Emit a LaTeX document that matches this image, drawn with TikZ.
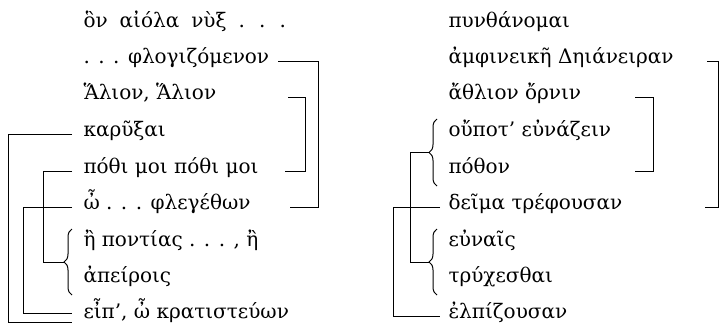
\documentclass[tikz,border=0pt]{standalone}
\usepackage{fontspec}
\setmainfont{DejaVu Serif}
\usetikzlibrary{decorations.pathreplacing}
\newcommand{\widesp}{\spaceskip=0.6em\relax}
\begin{document}
\begin{tikzpicture}[x=1pt,y=-1pt,line width=1pt,
  txt/.style={anchor=mid west,inner sep=0pt,font=\fontsize{20}{24}\selectfont},
  brc/.style={decorate,decoration={brace,amplitude=8pt}}]
\useasboundingbox (0,0) rectangle (720,330);
% left column
\node[txt] (L1) at (83,25)  {\widesp ὃν αἰόλα νὺξ . . .};
\node[txt] (L2) at (83,61)  {. . . φλογιζόμενον};
\node[txt] (L3) at (83,97)  {Ἅλιον, Ἅλιον};
\node[txt] (L4) at (83,134) {καρῦξαι};
\node[txt] (L5) at (83,171) {πόθι μοι πόθι μοι};
\node[txt] (L6) at (83,207) {ὦ . . . φλεγέθων};
\node[txt] (L7) at (83,244) {ἢ ποντίας . . . , ἢ};
\node[txt] (L8) at (83,280) {ἀπείροις};
\node[txt] (L9) at (83,316) {εἶπ’, ὦ κρατιστεύων};
% right column
\node[txt] (R1) at (448,25)  {πυνθάνομαι};
\node[txt] (R2) at (448,61)  {ἀμφινεικῆ Δηιάνειραν};
\node[txt] (R3) at (448,97)  {ἄθλιον ὄρνιν};
\node[txt] (R4) at (448,134) {οὔποτ’ εὐνάζειν};
\node[txt] (R5) at (448,171) {πόθον};
\node[txt] (R6) at (448,207) {δεῖμα τρέφουσαν};
\node[txt] (R7) at (448,244) {εὐναῖς};
\node[txt] (R8) at (448,280) {τρύχεσθαι};
\node[txt] (R9) at (448,316) {ἐλπίζουσαν};
% x positions
\coordinate (xA) at (8,0);   \coordinate (xB) at (23,0);
\coordinate (xC) at (43,0);  \coordinate (xE) at (72,0);
\coordinate (s278) at (278,0); \coordinate (s288) at (288,0);
\coordinate (s285) at (285,0); \coordinate (s290) at (290,0);
\coordinate (xP) at (318,0); \coordinate (xQ) at (305,0);
\coordinate (xF) at (393,0); \coordinate (xG) at (410,0);
\coordinate (xI) at (440,0);
\coordinate (xM) at (635,0); \coordinate (xL) at (653,0);
\coordinate (xN) at (705,0); \coordinate (xK) at (707,0);
\coordinate (xJ) at (718,0);
\coordinate (b9i) at (72,313); \coordinate (b9o) at (72,322);
% braces
\draw[brc] (72,295) -- (72,229) coordinate[pos=0.5,xshift=-8pt] (tL);
\draw[brc] (437,186) -- (437,119) coordinate[pos=0.5,xshift=-8pt] (tA);
\draw[brc] (437,295) -- (437,229) coordinate[pos=0.5,xshift=-8pt] (tB);
% left-side connectors (left column)
\draw (L4.mid west -| xE) -| (xA |- b9o) -- (b9o);
\draw (L6.mid west -| xE) -| (xB |- b9i) -- (b9i);
\draw (L5.mid west -| xE) -| (xC |- tL) -- (tL);
% right-side brackets (left column)
\draw (L2.mid west -| s278) -- (L2.mid west -| xP) -- (L6.mid west -| xP) -- (L6.mid west -| s290);
\draw (L3.mid west -| s288) -- (L3.mid west -| xQ) -- (L5.mid west -| xQ) -- (L5.mid west -| s285);
% left-side connectors (right column)
\draw (R6.mid west -| xI) -| (xF |- R9.mid west) -- (R9.mid west -| xI);
\draw (tA) -- (tA -| xG) -- (tB -| xG) -- (tB);
% right-side brackets (right column)
\draw (R2.mid west -| xK) -- (R2.mid west -| xJ) -- (R6.mid west -| xJ) -- (R6.mid west -| xN);
\draw (R3.mid west -| xM) -- (R3.mid west -| xL) -- (R5.mid west -| xL) -- (R5.mid west -| xM);
\end{tikzpicture}
\end{document}
